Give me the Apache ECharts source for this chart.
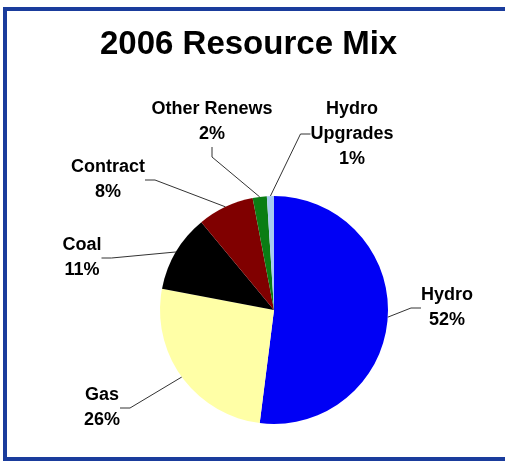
<!DOCTYPE html>
<html>
<head>
<meta charset="utf-8">
<script src="https://cdn.jsdelivr.net/npm/echarts@6/dist/echarts.min.js"></script>
<style>
html,body{margin:0;padding:0;background:#fff;overflow:hidden;}
#chart{width:505px;height:462px;}
</style>
</head>
<body>
<div id="chart"></div>
<script>
var title = '2006 Resource Mix';
var categories = ['Hydro', 'Gas', 'Coal', 'Contract', 'Other Renews', 'Hydro Upgrades'];
var labelNames = ['Hydro', 'Gas', 'Coal', 'Contract', 'Other Renews', 'Hydro\nUpgrades'];
var values = [52, 26, 11, 8, 2, 1];
var colors = ['#0000f5', '#ffffa6', '#000000', '#800000', '#0a7d14', '#a6caf0'];
// label anchor positions (centre of label text block)
var labelPos = [[447, 308], [102, 408], [82, 258], [108, 180], [212, 122], [352, 134]];

var chart = echarts.init(document.getElementById('chart'), null, {renderer: 'canvas'});
var data = categories.map(function (c, i) {
  return {
    name: c,
    value: values[i],
    itemStyle: {color: colors[i]},
    label: {formatter: labelNames[i] + '\n' + values[i] + '%'}
  };
});
chart.setOption({
  backgroundColor: '#ffffff',
  animation: false,
  graphic: [{
    type: 'rect',
    shape: {x: 5, y: 9, width: 800, height: 450},
    style: {fill: '#ffffff', stroke: '#1a3c9c', lineWidth: 4},
    z: -10
  }],
  title: {
    text: title,
    left: 95,
    top: 23,
    textStyle: {fontFamily: 'Liberation Sans', fontWeight: 'bold', fontSize: 33, color: '#000'}
  },
  series: [{
    type: 'pie',
    center: [274, 310],
    radius: [0, 114],
    startAngle: 90,
    clockwise: true,
    avoidLabelOverlap: false,
    data: data,
    label: {
      show: true,
      position: 'outside',
      fontFamily: 'Liberation Sans',
      fontWeight: 'bold',
      fontSize: 18,
      lineHeight: 25,
      color: '#000',
      align: 'center'
    },
    labelLine: {
      show: true,
      length: 10,
      length2: 10,
      lineStyle: {color: '#333', width: 1}
    },
    labelLayout: function (params) {
      var p = labelPos[params.dataIndex];
      return {x: p[0], y: p[1], align: 'center', verticalAlign: 'middle'};
    }
  }]
});
</script>
</body>
</html>
